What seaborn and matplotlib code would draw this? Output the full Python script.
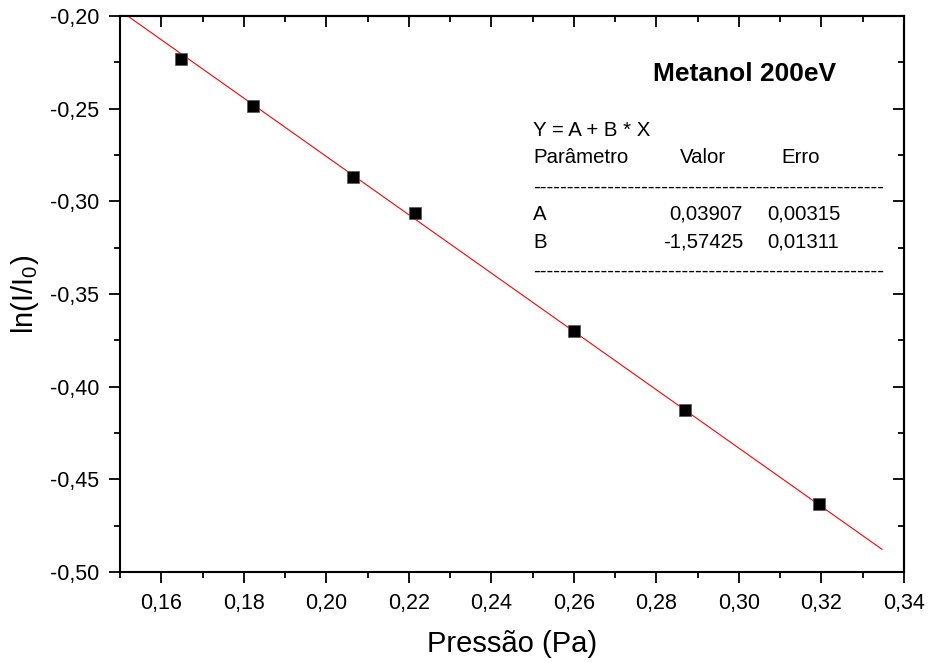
import matplotlib
matplotlib.use("Agg")
import matplotlib.pyplot as plt
import matplotlib.ticker as mticker
import seaborn as sns
import pandas as pd

# ---- data ----
pressure = [0.1649, 0.1823, 0.2065, 0.2214, 0.2601, 0.2869, 0.3193]
ln_ratio = [-0.2234, -0.2487, -0.2867, -0.3063, -0.3700, -0.4128, -0.4635]
fit_x = [0.1513, 0.3347]
fit_y = [-0.1991, -0.4878]

title_text = "Metanol 200eV"
eq_text = "Y = A + B * X"
header = ["Parâmetro", "Valor", "Erro"]
param_names = ["A", "B"]
param_values = ["0,03907", "-1,57425"]
param_errors = ["0,00315", "0,01311"]

xlabel = "Pressão (Pa)"
ylabel = r"ln(I/I$_\mathregular{0}$)"

sns.set_style("ticks")
plt.rcParams['font.family'] = ['Liberation Sans', 'DejaVu Sans']
plt.rcParams['mathtext.fontset'] = 'custom'
plt.rcParams['mathtext.rm'] = 'Liberation Sans'
for k in ['text.color', 'axes.labelcolor', 'xtick.color', 'ytick.color', 'axes.edgecolor']:
    plt.rcParams[k] = 'black'

W, H = 930, 663
fig = plt.figure(figsize=(W / 100, H / 100), dpi=100)
ax = fig.add_axes([120 / W, 1 - 572 / H, (904 - 120) / W, (572 - 16) / H])

df = pd.DataFrame({"x": pressure, "y": ln_ratio})
dfit = pd.DataFrame({"x": fit_x, "y": fit_y})

sns.lineplot(data=dfit, x="x", y="y", ax=ax, color="#ff0000", linewidth=0.8, zorder=2)
sns.scatterplot(data=df, x="x", y="y", ax=ax, marker="s", s=75, color="black",
                edgecolor="#555555", linewidth=0.5, zorder=3)

ax.set_xlim(0.15, 0.34)
ax.set_ylim(-0.50, -0.20)

def comma_fmt(v, pos):
    return f"{v:.2f}".replace(".", ",")

ax.xaxis.set_major_locator(mticker.MultipleLocator(0.02))
ax.xaxis.set_minor_locator(mticker.MultipleLocator(0.01))
ax.yaxis.set_major_locator(mticker.MultipleLocator(0.05))
ax.yaxis.set_minor_locator(mticker.MultipleLocator(0.025))
ax.xaxis.set_major_formatter(mticker.FuncFormatter(comma_fmt))
ax.yaxis.set_major_formatter(mticker.FuncFormatter(comma_fmt))

ax.tick_params(which="major", direction="out", length=8, width=1.3, labelsize=15.5, pad=7, colors="black")
ax.tick_params(which="minor", direction="out", length=4.5, width=1.3)
for sp in ax.spines.values():
    sp.set_linewidth(1.5)
    sp.set_color("black")

# top/right inward ticks
secx = ax.secondary_xaxis("top")
secx.xaxis.set_major_locator(mticker.MultipleLocator(0.02))
secx.xaxis.set_minor_locator(mticker.MultipleLocator(0.01))
secx.tick_params(which="major", direction="in", length=8, width=1.3, labeltop=False)
secx.tick_params(which="minor", direction="in", length=4.5, width=1.3)
secx.spines["top"].set_linewidth(1.5)
secy = ax.secondary_yaxis("right")
secy.yaxis.set_major_locator(mticker.MultipleLocator(0.05))
secy.yaxis.set_minor_locator(mticker.MultipleLocator(0.025))
secy.tick_params(which="major", direction="in", length=8, width=1.3, labelright=False)
secy.tick_params(which="minor", direction="in", length=4.5, width=1.3)
secy.spines["right"].set_linewidth(1.5)

ax.set_xlabel(xlabel, fontsize=21, labelpad=12)
ax.set_ylabel(ylabel, fontsize=21, labelpad=6)

def ftext(x, y, s, **kw):
    fig.text(x / W, 1 - y / H, s, va="center", **kw)

ftext(745, 74, title_text, fontsize=19, fontweight="bold", ha="center")
fs = 14.7
ftext(533, 130, eq_text, fontsize=fs, ha="left")
ftext(533, 157, header[0], fontsize=fs, ha="left")
ftext(680, 157, header[1], fontsize=fs, ha="left")
ftext(781, 157, header[2], fontsize=fs, ha="left")
dash = "-" * 52
ftext(533, 187, dash, fontsize=fs, ha="left")
rows_y = [214, 242]
for name, val, err, yy in zip(param_names, param_values, param_errors, rows_y):
    ftext(533, yy, name, fontsize=fs, ha="left")
    ftext(743, yy, val, fontsize=fs, ha="right")
    ftext(767, yy, err, fontsize=fs, ha="left")
ftext(533, 271, dash, fontsize=fs, ha="left")

fig.savefig("out.png", dpi=100)
